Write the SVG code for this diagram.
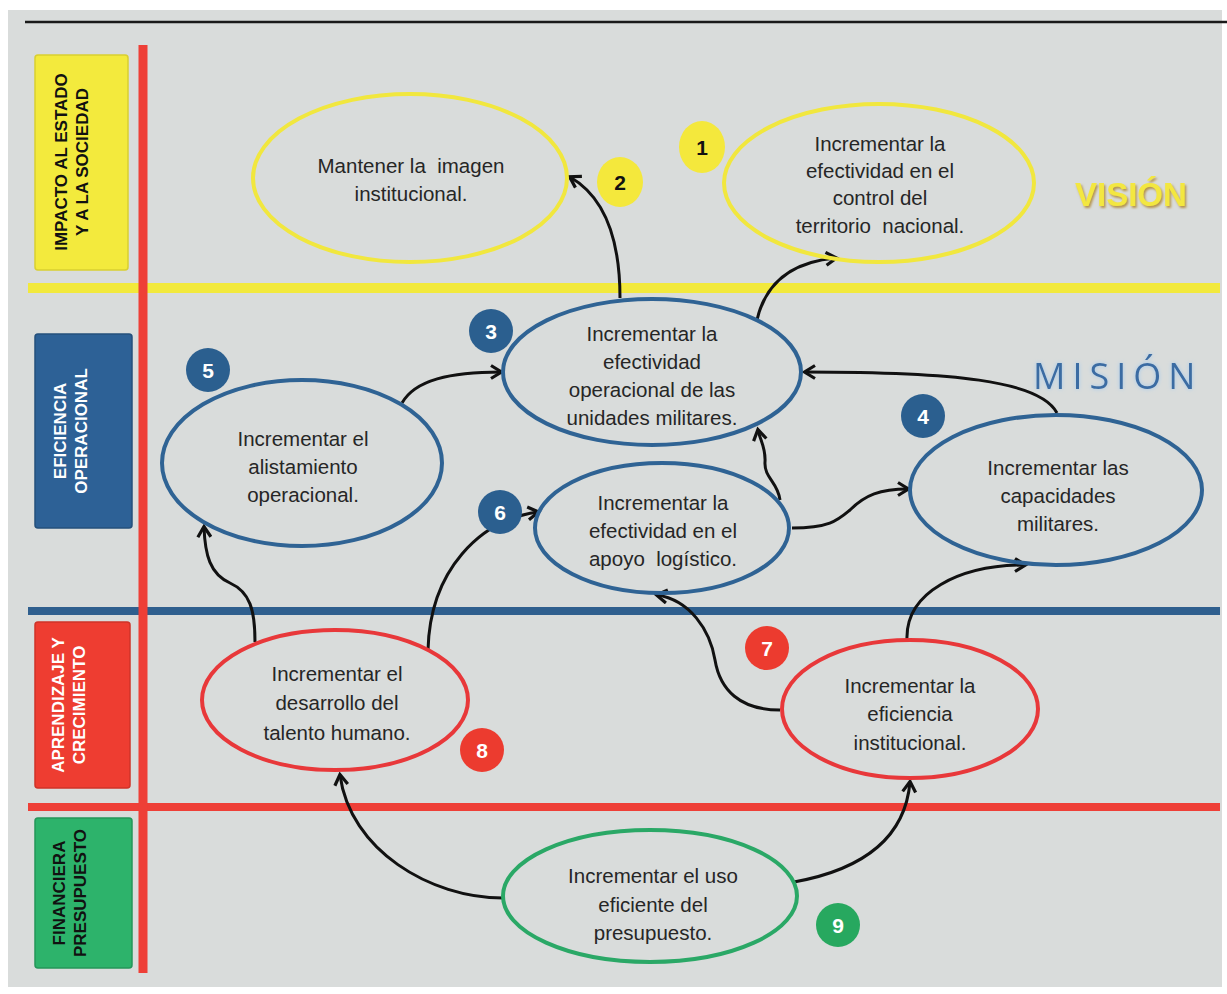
<svg xmlns="http://www.w3.org/2000/svg" width="1227" height="994" viewBox="0 0 1227 994">
<style>
.bg{fill:#d9dcdb}
.lbl{font-family:"Liberation Sans",Arial,sans-serif;font-weight:bold;font-size:17px;text-anchor:middle}
.t{font-family:"Liberation Sans",Arial,sans-serif;font-size:20.5px;fill:#262626;text-anchor:middle;white-space:pre}
.num{font-family:"Liberation Sans",Arial,sans-serif;font-weight:bold;font-size:21px;text-anchor:middle}
.ey{fill:none;stroke:#f1e73e;stroke-width:4}
.eb{fill:none;stroke:#2f6394;stroke-width:4}
.er{fill:none;stroke:#e8383a;stroke-width:4}
.eg{fill:none;stroke:#2aa866;stroke-width:4}
.c{fill:none;stroke:#111;stroke-width:3;marker-end:url(#arr)}
</style>
<defs>
<marker id="arr" viewBox="0 0 16 16" refX="12" refY="8" markerWidth="16" markerHeight="16" markerUnits="userSpaceOnUse" orient="auto">
<path d="M2,1.5 L12.5,8 L2,14.5" fill="none" stroke="#111" stroke-width="3.2" stroke-linejoin="miter"/>
</marker>
<filter id="vshadow" x="-20%" y="-30%" width="140%" height="160%">
<feDropShadow dx="1.5" dy="2" stdDeviation="1.2" flood-color="#b08a3a" flood-opacity="0.9"/>
</filter>
<filter id="mglow" x="-20%" y="-30%" width="140%" height="160%">
<feDropShadow dx="0" dy="0" stdDeviation="2" flood-color="#9cc8f0" flood-opacity="0.9"/>
</filter>
</defs>
<rect x="0" y="0" width="1227" height="994" fill="#ffffff"/>
<rect class="bg" x="8" y="10" width="1214" height="977"/>
<line x1="25" y1="22" x2="1227" y2="22" stroke="#1a1a1a" stroke-width="2.5"/>

<g id="lanes">
<line x1="28" y1="288" x2="1220" y2="288" stroke="#f2e93c" stroke-width="10"/>
<line x1="28" y1="611" x2="1220" y2="611" stroke="#2f5f8e" stroke-width="8"/>
<line x1="28" y1="807" x2="1220" y2="807" stroke="#ee3f37" stroke-width="8"/>
<line x1="143" y1="45" x2="143" y2="973" stroke="#ee3f37" stroke-width="9"/>
</g>

<g id="label-impacto">
<rect x="35" y="55" width="93" height="215" rx="3" fill="#f3ea3d" stroke="#d9cf30" stroke-width="1.5"/>
<text class="lbl" fill="#111" transform="translate(67,162) rotate(-90)">IMPACTO AL ESTADO</text>
<text class="lbl" fill="#111" transform="translate(88,162) rotate(-90)">Y A LA SOCIEDAD</text>
</g>
<g id="label-eficiencia">
<rect x="35" y="334" width="97" height="194" rx="3" fill="#2d6196" stroke="#24507c" stroke-width="1.5"/>
<text class="lbl" fill="#ffffff" transform="translate(66,431) rotate(-90)">EFICIENCIA</text>
<text class="lbl" fill="#ffffff" transform="translate(87,431) rotate(-90)">OPERACIONAL</text>
</g>
<g id="label-aprendizaje">
<rect x="35" y="622" width="95" height="166" rx="3" fill="#ee3d31" stroke="#cf3328" stroke-width="1.5"/>
<text class="lbl" fill="#ffffff" transform="translate(64,705) rotate(-90)">APRENDIZAJE Y</text>
<text class="lbl" fill="#ffffff" transform="translate(85,705) rotate(-90)">CRECIMIENTO</text>
</g>
<g id="label-financiera">
<rect x="35" y="818" width="97" height="150" rx="3" fill="#2db36b" stroke="#24965a" stroke-width="1.5"/>
<text class="lbl" fill="#111" transform="translate(65,893) rotate(-90)">FINANCIERA</text>
<text class="lbl" fill="#111" transform="translate(86,893) rotate(-90)">PRESUPUESTO</text>
</g>

<g id="vision-title">
<text x="1075" y="206" font-family="Liberation Sans, Arial, sans-serif" font-weight="bold" font-size="33" fill="#f3e740" filter="url(#vshadow)">VISIÓN</text>
</g>
<g id="mision-title">
<text x="1033" y="389" font-family="Open Sans, Liberation Sans, sans-serif" font-size="36" letter-spacing="7" fill="#3b6ca3" filter="url(#mglow)">MISIÓN</text>
</g>

<g id="connectors">
<path class="c" d="M620,298 C620,250 610,200 570,177"/>
<path class="c" d="M757,320 C765,285 790,262 836,258"/>
<path class="c" d="M402,403 C415,380 450,372 501,372"/>
<path class="c" d="M1057,413 C1040,380 950,372 805,372"/>
<path class="c" d="M780,500 C778,482 764,478 765,462 C766,448 760,440 758,430"/>
<path class="c" d="M792,528 C830,528 838,520 850,510 C865,495 880,489 908,489"/>
<path class="c" d="M255,642 C255,610 250,592 230,583 C210,574 205,555 204,527"/>
<path class="c" d="M428,650 C430,570 480,520 538,512"/>
<path class="c" d="M780,710 C740,710 720,690 715,660 C710,630 690,600 657,595"/>
<path class="c" d="M907,640 C905,592 960,565 1025,565"/>
<path class="c" d="M503,898 C430,898 350,850 340,775"/>
<path class="c" d="M794,882 C860,870 905,840 910,782"/>
</g>

<g id="node-1">
<ellipse class="ey" cx="879" cy="183" rx="155" ry="79"/>
<text class="t" x="880" y="151">Incrementar la</text>
<text class="t" x="880" y="178">efectividad en el</text>
<text class="t" x="880" y="205">control del</text>
<text class="t" x="880" y="233" xml:space="preserve">territorio  nacional.</text>
<ellipse cx="702" cy="147" rx="23" ry="26" fill="#f4e83c"/>
<text class="num" x="702" y="155" fill="#111">1</text>
</g>
<g id="node-2">
<ellipse class="ey" cx="410" cy="178" rx="157" ry="84"/>
<text class="t" x="411" y="173" xml:space="preserve">Mantener la  imagen</text>
<text class="t" x="411" y="201">institucional.</text>
<ellipse cx="620" cy="182" rx="23" ry="25" fill="#f4e83c"/>
<text class="num" x="620" y="190" fill="#111">2</text>
</g>
<g id="node-3">
<ellipse class="eb" cx="652" cy="372" rx="149" ry="73"/>
<text class="t" x="652" y="341">Incrementar la</text>
<text class="t" x="652" y="369">efectividad</text>
<text class="t" x="652" y="397">operacional de las</text>
<text class="t" x="652" y="425">unidades militares.</text>
<circle cx="491" cy="331" r="22" fill="#2b5f8f"/>
<text class="num" x="491" y="339" fill="#ffffff">3</text>
</g>
<g id="node-4">
<ellipse class="eb" cx="1056" cy="490" rx="146" ry="75"/>
<text class="t" x="1058" y="475">Incrementar las</text>
<text class="t" x="1058" y="503">capacidades</text>
<text class="t" x="1058" y="531">militares.</text>
<circle cx="923" cy="416" r="22" fill="#2b5f8f"/>
<text class="num" x="923" y="424" fill="#ffffff">4</text>
</g>
<g id="node-5">
<ellipse class="eb" cx="302" cy="463" rx="140" ry="83"/>
<text class="t" x="303" y="446">Incrementar el</text>
<text class="t" x="303" y="474">alistamiento</text>
<text class="t" x="303" y="502">operacional.</text>
<circle cx="208" cy="370" r="22" fill="#2b5f8f"/>
<text class="num" x="208" y="378" fill="#ffffff">5</text>
</g>
<g id="node-6">
<ellipse class="eb" cx="662" cy="528" rx="127" ry="65"/>
<text class="t" x="663" y="510">Incrementar la</text>
<text class="t" x="663" y="538">efectividad en el</text>
<text class="t" x="663" y="566" xml:space="preserve">apoyo  logístico.</text>
<circle cx="500" cy="512" r="22" fill="#2b5f8f"/>
<text class="num" x="500" y="520" fill="#ffffff">6</text>
</g>
<g id="node-7">
<ellipse class="er" cx="910" cy="709" rx="128" ry="69"/>
<text class="t" x="910" y="693">Incrementar la</text>
<text class="t" x="910" y="721">eficiencia</text>
<text class="t" x="910" y="750">institucional.</text>
<circle cx="767" cy="648" r="22" fill="#ec3b2f"/>
<text class="num" x="767" y="656" fill="#ffffff">7</text>
</g>
<g id="node-8">
<ellipse class="er" cx="335" cy="700" rx="133" ry="70"/>
<text class="t" x="337" y="681">Incrementar el</text>
<text class="t" x="337" y="710">desarrollo del</text>
<text class="t" x="337" y="740">talento humano.</text>
<circle cx="482" cy="750" r="22" fill="#ec3b2f"/>
<text class="num" x="482" y="758" fill="#ffffff">8</text>
</g>
<g id="node-9">
<ellipse class="eg" cx="650" cy="896" rx="147" ry="66"/>
<text class="t" x="653" y="883">Incrementar el uso</text>
<text class="t" x="653" y="912">eficiente del</text>
<text class="t" x="653" y="940">presupuesto.</text>
<circle cx="838" cy="925" r="22" fill="#27a85f"/>
<text class="num" x="838" y="933" fill="#ffffff">9</text>
</g>
</svg>
